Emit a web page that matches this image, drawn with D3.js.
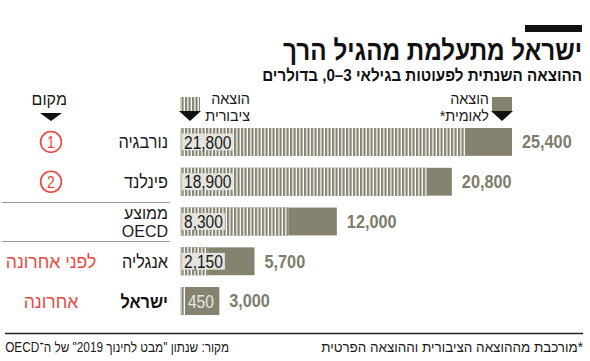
<!DOCTYPE html>
<html>
<head>
<meta charset="utf-8">
<script src="https://cdn.jsdelivr.net/npm/d3@7"></script>
<style>
  body { margin: 0; background: #fff; }
  svg { display: block; font-family: "Liberation Sans", Arial, sans-serif; }
</style>
</head>
<body>
<svg id="chart" width="590" height="361"></svg>
<script>
// Data
var countries = ["נורבגיה", "פינלנד", "ממוצע OECD", "אנגליה", "ישראל"];
var nationalSpend = [25400, 20800, 12000, 5700, 3000];
var publicSpend = [21800, 18900, 8300, 2150, 450];
var rankLabels = ["1", "2", "", "לפני אחרונה", "אחרונה"];

var title = "ישראל מתעלמת מהגיל הרך";
var subtitle = "ההוצאה השנתית לפעוטות בגילאי 3–0, בדולרים";
var footNote = "*מורכבת מההוצאה הציבורית וההוצאה הפרטית";
var source = "מקור: שנתון \"מבט לחינוך 2019\" של ה־OECD";

// Colours
var barGray = "#858370";
var valueGray = "#7e7c6b";
var boxLight = "#e4e3dd";
var red = "#e8493f";

var svg = d3.select("#chart");
var fmt = d3.format(",");

// squeeze text horizontally around its anchor, the original font is a condensed one
function squeeze(sel, k) {
  sel.each(function() {
    var ax = +this.getAttribute("x");
    d3.select(this).attr("transform",
      "translate(" + ax + ",0) scale(" + k + ",1) translate(" + (-ax) + ",0)");
  });
  return sel;
}
function fitWidth(sel, w) {
  return squeeze(sel, w / sel.node().getComputedTextLength());
}

// right-to-left embedded text, anchored at its right edge
function rtlText(x, y, str, size, weight, fill, anchor) {
  return svg.append("text")
    .attr("x", x).attr("y", y)
    .attr("text-anchor", anchor || "end")
    .attr("font-size", size)
    .attr("font-weight", weight || "normal")
    .attr("fill", fill || "#1a1a1a")
    .text("\u202B" + str + "\u202C");
}

// Scales
var x = d3.scaleLinear().domain([0, d3.max(nationalSpend)]).range([180, 512]);
var y = d3.scaleBand().domain(countries).range([128, 315]).paddingInner(0.3).paddingOuter(0);

// Stripe pattern for the public share
var defs = svg.append("defs");
var pat = defs.append("pattern")
  .attr("id", "stripes")
  .attr("patternUnits", "userSpaceOnUse")
  .attr("x", 181.5)
  .attr("width", 3.5).attr("height", 10);
pat.append("rect").attr("width", 3.5).attr("height", 10).attr("fill", "#fff");
pat.append("rect").attr("width", 2.2).attr("height", 10).attr("fill", barGray);

// Header
svg.append("rect").attr("x", 525).attr("y", 25).attr("width", 57).attr("height", 7).attr("fill", "#111");
fitWidth(rtlText(582, 60, title, 28, "bold", "#111"), 299);
fitWidth(rtlText(582, 81.3, subtitle, 17, "bold", "#111"), 320);

// Legend
function legendIcon(x0, fill) {
  svg.append("rect").attr("x", x0).attr("y", 97).attr("width", 20).attr("height", 14).attr("fill", fill);
  svg.append("path")
    .attr("d", "M" + (x0 - 1) + ",111 L" + (x0 + 21) + ",111 L" + (x0 + 10) + ",121 Z")
    .attr("fill", "#111");
}
legendIcon(180, "url(#stripes)");
legendIcon(492, barGray);
squeeze(rtlText(250, 104.5, "הוצאה", 15), 0.96);
squeeze(rtlText(250, 121.5, "ציבורית", 15), 0.96);
squeeze(rtlText(489, 104.5, "הוצאה", 15), 0.96);
squeeze(rtlText(489, 121.5, "לאומית*", 15), 0.96);

squeeze(rtlText(67, 105, "מקום", 17.5), 0.92);
svg.append("path").attr("d", "M40,113 L62,113 L51,121 Z").attr("fill", "#111");

// Row separators around the OECD row
[countries[2], countries[3]].forEach(function(c) {
  var yy = Math.round(y(c) - (y.step() - y.bandwidth()) / 2) + 0.5;
  svg.append("line").attr("x1", 2).attr("x2", 170).attr("y1", yy).attr("y2", yy)
    .attr("stroke", "#9a9a9a").attr("stroke-width", 1);
});

// Bars
var rows = svg.append("g").attr("id", "rows")
  .selectAll("g")
  .data(countries)
  .enter()
  .append("g");

rows.each(function(c, i) {
  var g = d3.select(this);
  var top = y(c);
  var h = y.bandwidth();
  var mid = top + h / 2;

  // national (solid)
  g.append("rect")
    .attr("x", x(0)).attr("y", top)
    .attr("width", x(nationalSpend[i]) - x(0)).attr("height", h)
    .attr("fill", barGray);
  // public (striped)
  g.append("rect")
    .attr("x", x(0)).attr("y", top)
    .attr("width", x(publicSpend[i]) - x(0)).attr("height", h)
    .attr("fill", "url(#stripes)");

  // public value label
  var small = x(publicSpend[i]) - x(0) < 15;
  var lx = small ? x(publicSpend[i]) + 2 : x(0) + 4;
  var label = g.append("text")
    .attr("x", lx).attr("y", mid).attr("dy", "0.36em")
    .attr("font-size", 18.5)
    .attr("fill", small ? "#e8e7e0" : "#1a1a1a")
    .text(fmt(publicSpend[i]));
  squeeze(label, 0.84);
  var bw = label.node().getComputedTextLength() * 0.84;
  g.insert("rect", "text")
    .attr("x", lx - 2).attr("y", small ? top : top + 5.5)
    .attr("width", small ? x(nationalSpend[i]) - lx + 2 : bw + 4)
    .attr("height", small ? h : h - 11)
    .attr("fill", small ? barGray : boxLight);

  // national value label
  squeeze(g.append("text")
    .attr("x", x(nationalSpend[i]) + 10).attr("y", mid).attr("dy", "0.36em")
    .attr("font-size", 17.5).attr("font-weight", "bold")
    .attr("fill", valueGray)
    .text(fmt(nationalSpend[i])), 0.93);

  // country name
  var isIsrael = c === "ישראל";
  if (c.indexOf("OECD") >= 0) {
    var parts = c.split(" ");
    squeeze(rtlText(168, mid - 2.5, parts[0], 17), 0.94);
    squeeze(rtlText(168, mid + 16, parts[1], 17), 0.94);
  } else {
    squeeze(rtlText(168, mid + 6.5, c, 18.5, isIsrael ? "bold" : "normal", isIsrael ? "#111" : "#1a1a1a"), 0.88);
  }

  // rank
  var r = rankLabels[i];
  if (/^\d+$/.test(r)) {
    svg.append("circle").attr("cx", 51).attr("cy", mid).attr("r", 10.4)
      .attr("fill", "none").attr("stroke", red).attr("stroke-width", 1.6);
    squeeze(svg.append("text").attr("x", 51).attr("y", mid).attr("dy", "0.36em")
      .attr("text-anchor", "middle").attr("font-size", 16.5).attr("fill", red).text(r), 0.85);
  } else if (r) {
    squeeze(rtlText(51, mid + 6.5, r, 18.5, "normal", red, "middle"), 0.95);
  }
});

// Footer
svg.append("line").attr("x1", 5).attr("x2", 583).attr("y1", 333.5).attr("y2", 333.5)
  .attr("stroke", "#222").attr("stroke-width", 1.3);
fitWidth(rtlText(583, 352, footNote, 14), 262);
fitWidth(rtlText(229, 352, source, 14), 224);
</script>
</body>
</html>
